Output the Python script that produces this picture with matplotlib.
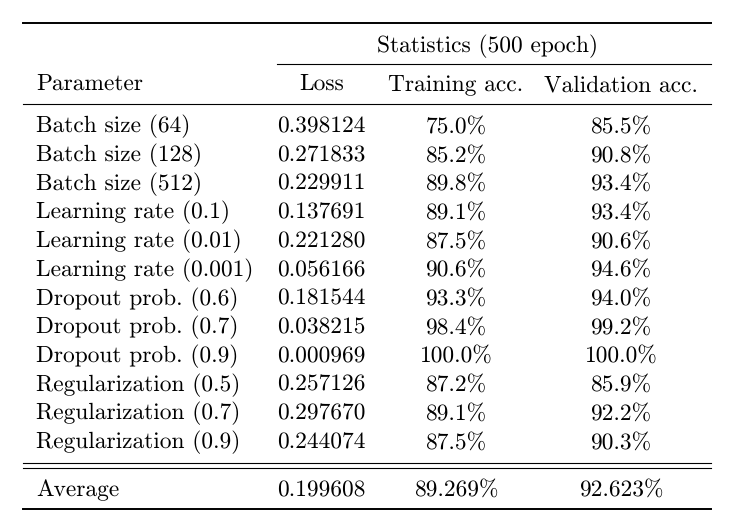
import matplotlib.pyplot as plt

plt.rcParams['font.family'] = ['cmr10', 'DejaVu Serif']
plt.rcParams['mathtext.fontset'] = 'cm'
plt.rcParams['text.hinting'] = 'no_hinting'

params = ["Batch size (64)", "Batch size (128)", "Batch size (512)",
          "Learning rate (0.1)", "Learning rate (0.01)", "Learning rate (0.001)",
          "Dropout prob. (0.6)", "Dropout prob. (0.7)", "Dropout prob. (0.9)",
          "Regularization (0.5)", "Regularization (0.7)", "Regularization (0.9)"]
loss = [0.398124, 0.271833, 0.229911, 0.137691, 0.221280, 0.056166,
        0.181544, 0.038215, 0.000969, 0.257126, 0.297670, 0.244074]
train_acc = [75.0, 85.2, 89.8, 89.1, 87.5, 90.6, 93.3, 98.4, 100.0, 87.2, 89.1, 87.5]
val_acc = [85.5, 90.8, 93.4, 93.4, 90.6, 94.6, 94.0, 99.2, 100.0, 85.9, 92.2, 90.3]
avg_row = ["Average", "0.199608", "89.269%", "92.623%"]

headers = ["Parameter", "Loss", "Training acc.", "Validation acc."]
group_title = "Statistics (500 epoch)"

fig = plt.figure(figsize=(7.35, 5.24), dpi=100)
ax = fig.add_axes([0, 0, 1, 1])
ax.set_xlim(0, 735)
ax.set_ylim(524, 0)
ax.axis("off")

fs = 16.85
col_x = [36, 321.5, 456, 621]
col_ha = ["left", "center", "center", "center"]

def row(y, cells):
    for x, ha, s in zip(col_x, col_ha, cells):
        ax.text(x, y, s, ha=ha, va="baseline", fontsize=fs)

# rules
x0, x1 = 23, 711
ax.plot([x0, x1], [22.5, 22.5], color="black", lw=1.4)
ax.plot([277, x1], [63.5, 63.5], color="black", lw=0.8)
ax.plot([x0, x1], [104, 104], color="black", lw=0.8)
ax.plot([x0, x1], [463.3, 463.3], color="black", lw=0.8)
ax.plot([x0, x1], [468.3, 468.3], color="black", lw=0.8)
ax.plot([x0, x1], [509.3, 509.3], color="black", lw=1.4)

ax.text(487.5, 52, group_title, ha="center", va="baseline", fontsize=fs)
row(91, headers)

for i in range(len(params)):
    y = 132.5 + i * 28.7
    row(y, [params[i], f"{loss[i]:.6f}", f"{train_acc[i]:.1f}%", f"{val_acc[i]:.1f}%"])

row(496, avg_row)

fig.savefig("out.png", dpi=100)
